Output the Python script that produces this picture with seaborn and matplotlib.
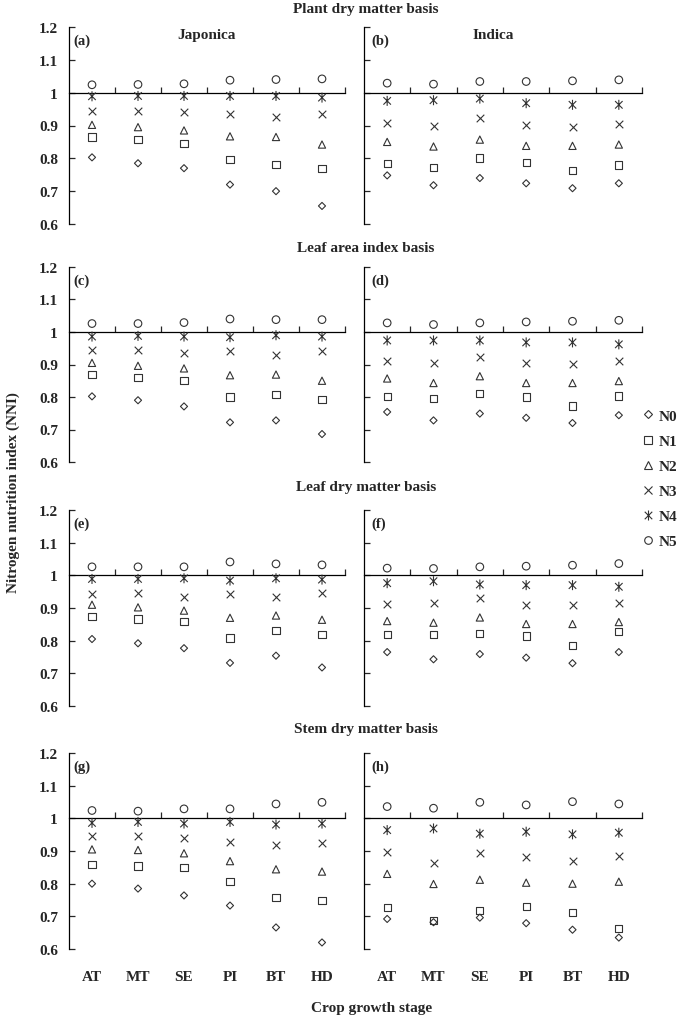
import matplotlib
matplotlib.use("Agg")
import matplotlib.pyplot as plt
from matplotlib.lines import Line2D
from matplotlib.path import Path
import numpy as np
import pandas as pd
import seaborn as sns

stages = ["AT", "MT", "SE", "PI", "BT", "HD"]
levels = ["N0", "N1", "N2", "N3", "N4", "N5"]

# each panel: rows = N0..N5, columns = AT..HD
panel_a = [[0.803, 0.785, 0.770, 0.720, 0.700, 0.655],
           [0.865, 0.857, 0.845, 0.797, 0.782, 0.770],
           [0.902, 0.895, 0.885, 0.867, 0.865, 0.842],
           [0.945, 0.945, 0.940, 0.935, 0.925, 0.935],
           [0.989, 0.990, 0.990, 0.990, 0.990, 0.985],
           [1.024, 1.025, 1.027, 1.038, 1.040, 1.042]]
panel_b = [[0.748, 0.718, 0.740, 0.724, 0.709, 0.724],
           [0.784, 0.771, 0.801, 0.787, 0.763, 0.780],
           [0.850, 0.836, 0.857, 0.838, 0.838, 0.842],
           [0.908, 0.898, 0.923, 0.901, 0.896, 0.905],
           [0.975, 0.977, 0.982, 0.968, 0.963, 0.963],
           [1.029, 1.026, 1.034, 1.034, 1.036, 1.039]]
panel_c = [[0.802, 0.790, 0.771, 0.722, 0.728, 0.686],
           [0.869, 0.860, 0.851, 0.800, 0.807, 0.792],
           [0.905, 0.896, 0.888, 0.867, 0.869, 0.850],
           [0.946, 0.946, 0.935, 0.941, 0.928, 0.941],
           [0.986, 0.988, 0.986, 0.984, 0.990, 0.986],
           [1.026, 1.026, 1.029, 1.040, 1.038, 1.038]]
panel_d = [[0.754, 0.728, 0.749, 0.736, 0.720, 0.744],
           [0.802, 0.796, 0.811, 0.800, 0.772, 0.803],
           [0.857, 0.843, 0.864, 0.843, 0.843, 0.849],
           [0.911, 0.904, 0.924, 0.904, 0.902, 0.910],
           [0.974, 0.974, 0.974, 0.968, 0.968, 0.962],
           [1.028, 1.023, 1.028, 1.031, 1.033, 1.036]]
panel_e = [[0.805, 0.792, 0.777, 0.732, 0.754, 0.718],
           [0.874, 0.866, 0.859, 0.808, 0.832, 0.818],
           [0.910, 0.902, 0.892, 0.870, 0.877, 0.864],
           [0.944, 0.945, 0.935, 0.942, 0.935, 0.945],
           [0.989, 0.989, 0.991, 0.984, 0.991, 0.987],
           [1.026, 1.026, 1.026, 1.041, 1.035, 1.032]]
panel_f = [[0.765, 0.743, 0.759, 0.748, 0.731, 0.765],
           [0.818, 0.820, 0.823, 0.814, 0.786, 0.829],
           [0.860, 0.855, 0.871, 0.851, 0.851, 0.857],
           [0.913, 0.916, 0.930, 0.909, 0.909, 0.915],
           [0.976, 0.982, 0.972, 0.970, 0.970, 0.965],
           [1.022, 1.021, 1.026, 1.028, 1.031, 1.036]]
panel_g = [[0.800, 0.785, 0.764, 0.733, 0.666, 0.620],
           [0.859, 0.854, 0.849, 0.806, 0.757, 0.749],
           [0.905, 0.903, 0.893, 0.869, 0.844, 0.837],
           [0.946, 0.946, 0.941, 0.929, 0.918, 0.926],
           [0.986, 0.989, 0.984, 0.989, 0.981, 0.984],
           [1.024, 1.022, 1.029, 1.029, 1.044, 1.049]]
panel_h = [[0.692, 0.682, 0.696, 0.679, 0.659, 0.635],
           [0.727, 0.687, 0.719, 0.729, 0.711, 0.663],
           [0.830, 0.799, 0.812, 0.803, 0.800, 0.806],
           [0.896, 0.863, 0.894, 0.883, 0.868, 0.886],
           [0.964, 0.969, 0.953, 0.959, 0.951, 0.956],
           [1.036, 1.031, 1.049, 1.041, 1.051, 1.044]]

panel_tags = ["(a)", "(b)", "(c)", "(d)", "(e)", "(f)", "(g)", "(h)"]
row_titles = ["Plant dry matter basis", "Leaf area index basis",
              "Leaf dry matter basis", "Stem dry matter basis"]
col_titles = ["Japonica", "Indica"]
y_ticks = [0.6, 0.7, 0.8, 0.9, 1.0, 1.1, 1.2]

panels = [panel_a, panel_b, panel_c, panel_d, panel_e, panel_f, panel_g, panel_h]

rows = []
for p, (tag, vals) in enumerate(zip(panel_tags, panels)):
    for li, lev in enumerate(levels):
        for si, st in enumerate(stages):
            rows.append({"panel": tag, "level": lev, "stage": st, "nni": vals[li][si]})
df = pd.DataFrame(rows)

sns.set_style("ticks")
plt.rcParams["font.family"] = ["Liberation Serif", "DejaVu Serif"]
plt.rcParams["font.weight"] = "bold"

W, H = 685, 1020
fig = plt.figure(figsize=(W / 100, H / 100), dpi=100)

# Excel-style star: an x with a vertical bar
d45 = 0.75
star = Path([(0, -1), (0, 1), (-d45, -d45), (d45, d45), (-d45, d45), (d45, -d45)],
            [Path.MOVETO, Path.LINETO, Path.MOVETO, Path.LINETO, Path.MOVETO, Path.LINETO])

mcol = "#333333"
mstyles = {
    "N0": dict(marker="D", s=13, filled=True),
    "N1": dict(marker="s", s=27, filled=True),
    "N2": dict(marker="^", s=27, filled=True),
    "N3": dict(marker="x", s=30, filled=False),
    "N4": dict(marker=star, s=52, filled=True),
    "N5": dict(marker="o", s=30, filled=True),
}

col_x = [(69, 345), (364, 642)]
row_y = [(28, 225), (268, 463), (511, 707), (754, 950)]
tfs = 11

for p, tag in enumerate(panel_tags):
    r, c = divmod(p, 2)
    x0, x1 = col_x[c]
    y0, y1 = row_y[r]
    ax = fig.add_axes([x0 / W, 1 - y1 / H, (x1 - x0) / W, (y1 - y0) / H])
    sub = df[df.panel == tag]
    for lev in levels:
        st = mstyles[lev]
        d = sub[sub.level == lev]
        kw = dict(marker=st["marker"], s=st["s"], linewidth=0.8, zorder=3, clip_on=False)
        if st["filled"]:
            kw.update(facecolor="none", edgecolor=mcol)
        else:
            kw.update(color=mcol)
        sns.scatterplot(data=d, x="stage", y="nni", ax=ax, legend=False, **kw)
    ax.set_xlim(-0.5, 5.5)
    ax.set_ylim(0.6, 1.2)
    ax.set_xlabel("")
    ax.set_ylabel("")
    for s in ["top", "right"]:
        ax.spines[s].set_visible(False)
    ax.spines["bottom"].set_position(("data", 1.0))
    ax.spines["bottom"].set_zorder(2)
    for s in ["bottom", "left"]:
        ax.spines[s].set_color("black")
        ax.spines[s].set_linewidth(0.9)
    ax.set_xticks(np.arange(0.5, 6.0, 1.0))
    ax.tick_params(axis="x", direction="in", length=4, width=0.9, labelbottom=False)
    ax.set_yticks(y_ticks)
    ax.set_yticklabels([f"{v:g}" for v in y_ticks])
    ax.tick_params(axis="y", direction="in", length=4, width=0.9, pad=8,
                   labelsize=tfs, labelleft=(c == 0))
    for lab in ax.get_yticklabels():
        lab.set_fontweight("bold")
    ax.text(0.015 if c == 0 else 0.025, 0.934, tag, transform=ax.transAxes,
            ha="left", va="center", fontsize=10.5, fontweight="bold")
    if r == 0:
        cx = 207 if c == 0 else 493
        ax.text((cx - x0) / (x1 - x0), 0.962, col_titles[c], transform=ax.transAxes,
                ha="center", va="center", fontsize=tfs, fontweight="bold")
    if r == 3:
        for i, stg in enumerate(stages):
            ax.text(i, -(978 - 950) / (y1 - y0), stg, transform=ax.get_xaxis_transform(),
                    ha="center", va="center", fontsize=tfs, fontweight="bold")

title_y = [9, 248, 488, 729]
for t, ty in zip(row_titles, title_y):
    fig.text(366 / W, 1 - ty / H, t, ha="center", va="center", fontsize=tfs, fontweight="bold")

fig.text(13 / W, 1 - 493 / H, "Nitrogen nutrition index (NNI)", rotation=90,
         ha="center", va="center", fontsize=tfs, fontweight="bold")
fig.text(372 / W, 1 - 1009 / H, "Crop growth stage", ha="center", va="center",
         fontsize=tfs, fontweight="bold")

handles = []
for lev in levels:
    st = mstyles[lev]
    ms = np.sqrt(st["s"])
    if st["filled"]:
        h = Line2D([], [], ls="none", marker=st["marker"], markersize=ms,
                   markerfacecolor="none", markeredgecolor=mcol, markeredgewidth=0.8)
    else:
        h = Line2D([], [], ls="none", marker=st["marker"], markersize=ms,
                   color=mcol, markeredgewidth=0.8)
    handles.append(h)
fig.legend(handles, levels, loc="upper left", bbox_to_anchor=(643 / W, 1 - 410 / H),
           frameon=False, handlelength=0.7, handletextpad=0.3, labelspacing=0.75,
           borderaxespad=0, borderpad=0, prop={"size": tfs, "weight": "bold"})

fig.savefig("out.png", dpi=100)
